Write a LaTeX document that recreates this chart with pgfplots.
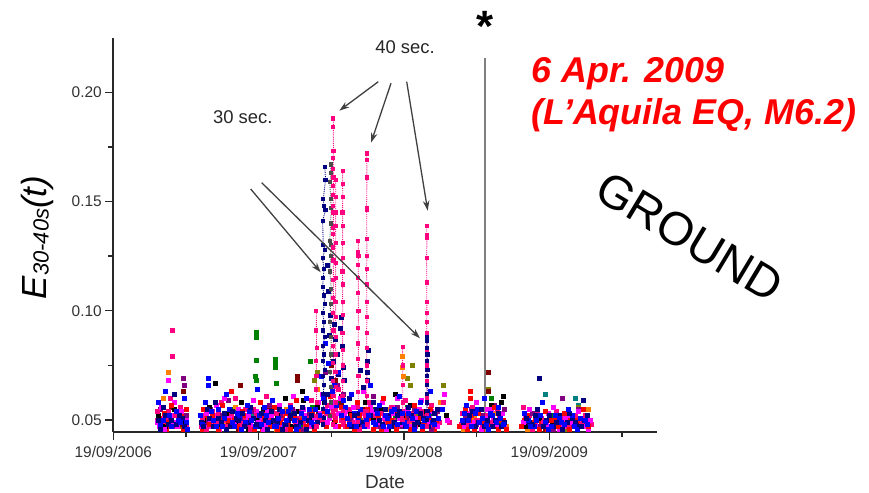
\documentclass[border=0pt]{standalone}
\usepackage{pgfplots}
\pgfplotsset{compat=1.18}
\usepackage{fontspec}
\setmainfont{Liberation Sans}
\usetikzlibrary{arrows.meta,calc}
\definecolor{ocBlack}{RGB}{0,0,0}
\definecolor{ocRed}{RGB}{255,0,0}
\definecolor{ocBlue}{RGB}{0,0,255}
\definecolor{ocMag}{RGB}{255,0,255}
\definecolor{ocOlive}{RGB}{128,128,0}
\definecolor{ocNavy}{RGB}{0,0,128}
\definecolor{ocPurple}{RGB}{128,0,128}
\definecolor{ocWine}{RGB}{128,0,0}
\definecolor{ocGreen}{RGB}{0,128,0}
\definecolor{ocOrange}{RGB}{255,128,0}
\definecolor{ocPink}{RGB}{255,0,128}
\definecolor{ocTeal}{RGB}{0,128,128}
\definecolor{axgray}{RGB}{40,40,40}
\definecolor{annot}{RGB}{64,64,64}
\pgfplotsset{
  dots/.style={only marks, mark=square*, mark size=2bp},
  spike/.style={densely dotted, line width=0.9bp, mark=square*, mark size=1.6bp, mark options={solid}},
}
\begin{document}
\begin{tikzpicture}[x=1bp,y=1bp]
\begin{axis}[
  name=ax,
  scale only axis, width=543.4bp, height=393.7bp,
  xmin=0, xmax=3.739, ymin=0.04464, ymax=0.22486,
  axis lines=left, axis line style={-, line width=1.8bp, color=axgray},
  tick align=outside, major tick length=8bp, minor tick length=5bp,
  every tick/.style={line width=1.4bp, color=axgray},
  xtick={0,1,2,3}, xticklabels={19/09/2006,19/09/2007,19/09/2008,19/09/2009},
  minor xtick={0.5,1.5,2.5,3.5},
  ytick={0.05,0.10,0.15,0.20}, yticklabels={0.05,0.10,0.15,0.20},
  minor ytick={0.075,0.125,0.175},
  tick label style={font=\fontsize{15.5}{18}\selectfont, text=black!80},
  xticklabel style={yshift=-3bp},
  /pgf/number format/assume math mode=true,
  xlabel={Date},
  xlabel style={at={(rel axis cs:0.5,-0.1455)}, anchor=base, font=\fontsize{19}{22}\selectfont, text=black!80},
  ylabel={\fontsize{35}{40}\selectfont\itshape E\raisebox{-2bp}{\fontsize{22}{24}\selectfont 30-40s}(t)},
  ylabel style={at={(rel axis cs:-0.1226,0.4933)}, anchor=base, inner sep=0pt},
]
% ---- base scatter, by colour ----
\addplot[dots, ocTeal] table[row sep=\\]{t v\\
0.39 .048\\ 0.70 .049\\ 0.95 .052\\ 1.20 .050\\ 1.80 .053\\ 2.05 .049\\ 2.97 .062\\ 3.18 .060\\ 3.20 .057\\};
\addplot[dots, ocOlive] table[row sep=\\]{t v\\
0.36 .051\\ 0.45 .047\\ 0.68 .047\\ 0.80 .052\\ 0.92 .049\\ 1.04 .055\\ 1.16 .047\\ 1.28 .051\\ 1.38 .068\\ 1.40 .072\\
1.70 .050\\ 1.84 .048\\ 2.02 .069\\ 2.04 .066\\ 2.06 .075\\ 2.10 .052\\ 2.20 .049\\ 2.27 .066\\
2.47 .049\\ 2.58 .064\\ 2.66 .052\\ 2.88 .049\\ 3.12 .046\\ 3.20 .056\\};
\addplot[dots, ocGreen] table[row sep=\\]{t v\\
0.35 .049\\ 0.44 .053\\ 0.66 .050\\ 0.74 .047\\ 0.83 .055\\ 0.92 .049\\ 0.98 .090\\ 0.98 .088\\ 0.98 .0775\\ 0.975 .070\\ 0.985 .068\\
1.05 .052\\ 1.115 .078\\ 1.115 .076\\ 1.115 .074\\ 1.12 .067\\ 1.17 .048\\ 1.24 .053\\ 1.31 .047\\ 1.355 .0767\\ 1.37 .056\\
1.56 .058\\ 1.64 .062\\ 1.70 .049\\ 1.78 .055\\ 1.86 .047\\ 1.94 .051\\ 2.02 .056\\ 2.10 .048\\ 2.18 .053\\
2.44 .050\\ 2.53 .055\\ 2.60 .060\\ 2.67 .049\\ 2.90 .048\\ 3.02 .052\\ 3.14 .047\\ 3.24 .050\\};
\addplot[dots, ocOrange] table[row sep=\\]{t v\\
0.34 .060\\ 0.378 .072\\ 0.42 .049\\ 0.47 .053\\ 0.63 .046\\ 0.70 .051\\ 0.77 .048\\ 0.84 .056\\ 0.91 .047\\ 0.98 .053\\
1.05 .049\\ 1.12 .046\\ 1.19 .055\\ 1.26 .048\\ 1.33 .052\\ 1.40 .064\\ 1.52 .055\\
1.66 .047\\ 1.73 .052\\ 1.81 .049\\ 1.88 .055\\ 1.99 .079\\ 1.99 .074\\ 1.995 .070\\ 2.06 .048\\ 2.13 .053\\ 2.20 .047\\ 2.25 .058\\
2.41 .046\\ 2.48 .051\\ 2.56 .048\\ 2.63 .053\\ 2.70 .047\\ 2.85 .046\\ 2.95 .050\\ 3.06 .047\\ 3.17 .052\\ 3.27 .055\\};
\addplot[dots, ocWine] table[row sep=\\]{t v\\
0.33 .051\\ 0.40 .056\\ 0.46 .048\\ 0.48 .063\\ 0.64 .047\\ 0.72 .053\\ 0.79 .049\\ 0.86 .046\\ 0.87 .066\\ 0.93 .052\\
1.00 .049\\ 1.07 .055\\ 1.14 .047\\ 1.21 .051\\ 1.262 .070\\ 1.262 .068\\ 1.35 .049\\ 1.41 .053\\
1.45 .060\\ 1.50 .075\\ 1.53 .068\\ 1.57 .058\\
1.65 .048\\ 1.72 .055\\ 1.79 .050\\ 1.86 .047\\ 1.93 .053\\ 2.00 .049\\ 2.07 .046\\ 2.14 .052\\ 2.21 .048\\
2.43 .048\\ 2.50 .053\\ 2.58 .072\\ 2.58 .063\\ 2.57 .049\\ 2.64 .047\\ 2.86 .049\\ 2.97 .046\\ 3.08 .051\\ 3.19 .048\\};
\addplot[dots, ocMag] table[row sep=\\]{t v\\
0.315 .047\\ 0.345 .051\\ 0.37 .053\\ 0.41 .049\\ 0.455 .051\\ 0.485 .047\\ 0.625 .050\\ 0.655 .047\\ 0.69 .052\\ 0.745 .049\\
0.785 .047\\ 0.815 .054\\ 0.845 .050\\ 0.875 .047\\ 0.915 .050\\ 0.945 .048\\ 0.985 .054\\ 1.015 .051\\ 1.045 .048\\ 1.085 .052\\
1.125 .047\\ 1.155 .053\\ 1.195 .049\\ 1.225 .047\\ 1.255 .054\\ 1.295 .050\\ 1.325 .052\\ 1.365 .048\\ 1.395 .047\\ 1.425 .053\\
1.455 .055\\ 1.485 .051\\ 1.515 .058\\ 1.545 .053\\ 1.575 .050\\ 1.605 .054\\ 1.635 .051\\ 1.665 .047\\ 1.705 .053\\ 1.735 .050\\
1.765 .056\\ 1.805 .052\\ 1.835 .047\\ 1.865 .051\\ 1.905 .049\\ 1.935 .056\\ 1.965 .051\\ 2.005 .047\\ 2.035 .052\\ 2.075 .049\\
2.105 .055\\ 2.135 .047\\ 2.175 .051\\ 2.205 .050\\ 2.425 .050\\ 2.455 .047\\ 2.485 .053\\ 2.515 .050\\ 2.545 .048\\ 2.575 .055\\
2.615 .050\\ 2.645 .047\\ 2.675 .053\\ 2.835 .052\\ 2.875 .047\\ 2.915 .050\\ 2.955 .047\\ 2.995 .053\\ 3.045 .049\\ 3.095 .047\\
3.135 .052\\ 3.175 .047\\ 3.225 .050\\ 3.265 .046\\};
\addplot[dots, ocPink] table[row sep=\\]{t v\\
0.305 .050\\ 0.35 .048\\ 0.375 .054\\ 0.425 .052\\ 0.475 .050\\ 0.505 .048\\ 0.605 .047\\ 0.635 .052\\ 0.665 .050\\ 0.725 .053\\
0.755 .050\\ 0.79 .047\\ 0.825 .049\\ 0.855 .052\\ 0.895 .050\\ 0.925 .048\\ 0.965 .055\\ 0.995 .047\\ 1.025 .052\\ 1.065 .050\\
1.095 .054\\ 1.135 .048\\ 1.165 .052\\ 1.205 .050\\ 1.235 .047\\ 1.275 .051\\ 1.305 .049\\ 1.345 .052\\ 1.375 .047\\ 1.415 .050\\
1.465 .053\\ 1.525 .055\\ 1.565 .050\\ 1.595 .047\\ 1.645 .052\\ 1.675 .050\\ 1.715 .054\\ 1.745 .049\\ 1.785 .052\\ 1.825 .050\\
1.855 .047\\ 1.895 .052\\ 1.925 .050\\ 1.965 .047\\ 1.995 .054\\ 2.025 .049\\ 2.065 .053\\ 2.095 .050\\ 2.145 .052\\ 2.175 .047\\
2.215 .053\\ 2.245 .049\\ 2.395 .048\\ 2.435 .051\\ 2.465 .049\\ 2.495 .054\\ 2.525 .050\\ 2.555 .047\\ 2.595 .052\\ 2.625 .049\\
2.655 .051\\ 2.685 .050\\ 2.845 .048\\ 2.865 .052\\ 2.905 .049\\ 2.945 .051\\ 2.985 .047\\ 3.025 .050\\ 3.075 .052\\ 3.115 .048\\
3.165 .050\\ 3.205 .047\\ 3.245 .052\\ 3.285 .048\\};
\addplot[dots, ocRed] table[row sep=\\]{t v\\
0.315 .051\\ 0.365 .046\\ 0.395 .050\\ 0.435 .047\\ 0.465 .053\\ 0.615 .046\\ 0.645 .051\\ 0.695 .048\\ 0.735 .050\\ 0.775 .046\\
0.805 .052\\ 0.835 .050\\ 0.875 .046\\ 0.905 .052\\ 0.945 .050\\ 0.985 .047\\ 1.025 .046\\ 1.055 .053\\ 1.095 .050\\ 1.125 .046\\
1.165 .051\\ 1.205 .048\\ 1.245 .052\\ 1.285 .046\\ 1.315 .051\\ 1.355 .049\\ 1.385 .046\\ 1.435 .050\\ 1.465 .047\\ 1.505 .052\\
1.545 .047\\ 1.585 .051\\ 1.625 .050\\ 1.655 .046\\ 1.695 .052\\ 1.735 .048\\ 1.765 .051\\ 1.805 .049\\ 1.845 .046\\ 1.875 .052\\
1.915 .050\\ 1.945 .046\\ 1.985 .049\\ 2.025 .052\\ 2.055 .047\\ 2.095 .050\\ 2.125 .046\\ 2.165 .050\\ 2.205 .046\\
2.405 .050\\ 2.435 .046\\ 2.465 .052\\ 2.495 .049\\ 2.535 .046\\ 2.565 .051\\ 2.605 .048\\ 2.645 .046\\ 2.685 .050\\
2.825 .050\\ 2.865 .047\\ 2.905 .051\\ 2.945 .049\\ 2.985 .046\\ 3.035 .050\\ 3.085 .046\\ 3.125 .050\\ 3.185 .047\\ 3.235 .049\\};
\addplot[dots, ocPurple] table[row sep=\\]{t v\\
0.32 .055\\ 0.37 .050\\ 0.41 .047\\ 0.48 .069\\ 0.485 .066\\ 0.50 .052\\
0.63 .049\\ 0.67 .055\\ 0.71 .047\\ 0.75 .052\\ 0.79 .059\\ 0.83 .048\\ 0.87 .051\\ 0.91 .047\\ 0.95 .054\\ 0.99 .050\\
1.03 .046\\ 1.07 .057\\ 1.11 .049\\ 1.15 .052\\ 1.19 .047\\ 1.23 .055\\ 1.27 .050\\ 1.31 .046\\ 1.35 .053\\ 1.39 .048\\
1.46 .072\\ 1.50 .080\\ 1.54 .066\\ 1.58 .062\\
1.63 .050\\ 1.67 .056\\ 1.71 .048\\ 1.75 .053\\ 1.79 .061\\ 1.83 .047\\ 1.87 .052\\ 1.91 .049\\ 1.95 .056\\ 1.99 .047\\
2.03 .051\\ 2.07 .055\\ 2.11 .048\\ 2.15 .052\\ 2.19 .046\\ 2.23 .054\\
2.42 .051\\ 2.46 .055\\ 2.50 .048\\ 2.54 .052\\ 2.58 .046\\ 2.62 .057\\ 2.66 .050\\ 2.69 .055\\
2.83 .048\\ 2.88 .053\\ 2.93 .047\\ 2.98 .050\\ 3.03 .046\\ 3.09 .060\\ 3.15 .048\\ 3.20 .055\\ 3.25 .049\\};
\addplot[dots, ocBlack] table[row sep=\\]{t v\\
0.31 .052\\ 0.36 .047\\ 0.42 .055\\ 0.48 .049\\
0.62 .050\\ 0.66 .056\\ 0.70 .067\\ 0.74 .047\\ 0.79 .053\\ 0.84 .049\\ 0.88 .058\\ 0.93 .046\\ 0.98 .051\\
1.03 .055\\ 1.08 .048\\ 1.13 .052\\ 1.18 .060\\ 1.23 .047\\ 1.27 .054\\ 1.30 .063\\ 1.31 .059\\ 1.36 .050\\ 1.40 .056\\
1.45 .058\\ 1.52 .049\\ 1.57 .061\\
1.63 .053\\ 1.68 .047\\ 1.73 .058\\ 1.79 .050\\ 1.84 .055\\ 1.89 .046\\ 1.94 .062\\ 1.99 .051\\
2.04 .057\\ 2.10 .048\\ 2.15 .054\\ 2.20 .049\\
2.29 .052\\ 2.43 .048\\ 2.48 .055\\ 2.54 .050\\ 2.60 .057\\ 2.68 .061\\ 2.67 .058\\
2.84 .047\\ 2.93 .051\\ 3.02 .048\\ 3.12 .053\\ 3.22 .047\\};
\addplot[dots, ocPink] table[row sep=\\]{t v\\
0.30 .054\\ 0.33 .046\\ 0.36 .050\\ 0.39 .060\\ 0.405 .091\\ 0.405 .079\\ 0.43 .048\\ 0.46 .056\\ 0.49 .047\\
0.61 .051\\ 0.64 .046\\ 0.68 .054\\ 0.71 .049\\ 0.74 .058\\ 0.77 .047\\ 0.81 .052\\ 0.84 .060\\ 0.87 .048\\ 0.91 .055\\ 0.94 .046\\
0.98 .052\\ 1.01 .049\\ 1.05 .061\\ 1.08 .047\\ 1.12 .053\\ 1.15 .050\\ 1.18 .046\\ 1.22 .057\\ 1.25 .049\\ 1.29 .054\\ 1.32 .047\\
1.36 .059\\ 1.39 .051\\ 1.44 .050\\ 1.47 .057\\ 1.51 .052\\ 1.55 .064\\ 1.58 .049\\
1.62 .055\\ 1.66 .049\\ 1.69 .046\\ 1.73 .052\\ 1.76 .058\\ 1.80 .047\\ 1.84 .053\\ 1.87 .049\\ 1.91 .056\\ 1.94 .047\\
1.98 .052\\ 2.01 .059\\ 2.05 .050\\ 2.08 .047\\ 2.12 .054\\ 2.15 .048\\ 2.19 .057\\ 2.23 .050\\ 2.27 .058\\ 2.31 .049\\
2.40 .053\\ 2.44 .048\\ 2.47 .056\\ 2.50 .050\\ 2.54 .047\\ 2.57 .052\\ 2.61 .049\\ 2.64 .055\\ 2.67 .047\\
2.82 .056\\ 2.84 .050\\ 2.88 .046\\ 2.92 .053\\ 2.96 .049\\ 3.00 .047\\ 3.05 .054\\ 3.09 .050\\ 3.13 .047\\ 3.18 .052\\ 3.22 .048\\ 3.26 .051\\};
\addplot[dots, ocMag] table[row sep=\\]{t v\\
0.30 .049\\ 0.33 .056\\ 0.35 .046\\ 0.38 .068\\ 0.39 .052\\ 0.42 .058\\ 0.44 .047\\ 0.47 .054\\ 0.50 .050\\
0.61 .047\\ 0.64 .053\\ 0.67 .049\\ 0.71 .057\\ 0.73 .046\\ 0.76 .060\\ 0.80 .051\\ 0.83 .048\\ 0.86 .055\\ 0.90 .047\\ 0.93 .052\\
0.96 .059\\ 1.00 .049\\ 1.03 .046\\ 1.06 .054\\ 1.10 .050\\ 1.14 .057\\ 1.17 .047\\ 1.21 .052\\ 1.24 .061\\ 1.27 .048\\ 1.31 .055\\
1.34 .047\\ 1.38 .051\\ 1.41 .058\\ 1.44 .062\\ 1.47 .049\\ 1.50 .056\\ 1.53 .047\\ 1.56 .060\\ 1.59 .052\\
1.62 .048\\ 1.65 .056\\ 1.68 .050\\ 1.72 .063\\ 1.75 .047\\ 1.78 .054\\ 1.82 .049\\ 1.85 .058\\ 1.88 .046\\ 1.92 .053\\
1.95 .060\\ 1.98 .048\\ 2.02 .055\\ 2.05 .047\\ 2.09 .051\\ 2.12 .059\\ 2.16 .049\\ 2.19 .054\\ 2.23 .047\\ 2.28 .062\\ 2.30 .050\\
2.41 .047\\ 2.44 .053\\ 2.47 .049\\ 2.50 .058\\ 2.53 .046\\ 2.56 .051\\ 2.60 .055\\ 2.63 .048\\ 2.66 .052\\ 2.69 .047\\
2.82 .049\\ 2.86 .055\\ 2.90 .047\\ 2.94 .052\\ 2.98 .048\\ 3.03 .056\\ 3.07 .046\\ 3.11 .051\\ 3.16 .049\\ 3.20 .054\\ 3.24 .047\\ 3.28 .050\\};
\addplot[dots, ocRed] table[row sep=\\]{t v\\
0.32 .047\\ 0.35 .053\\ 0.37 .049\\ 0.40 .057\\ 0.45 .051\\ 0.48 .046\\ 0.50 .055\\
0.62 .055\\ 0.66 .048\\ 0.68 .052\\ 0.72 .046\\ 0.75 .057\\ 0.79 .050\\ 0.81 .063\\ 0.85 .047\\ 0.89 .054\\ 0.92 .049\\ 0.97 .046\\
1.01 .058\\ 1.04 .051\\ 1.08 .047\\ 1.11 .056\\ 1.15 .049\\ 1.19 .053\\ 1.22 .046\\ 1.26 .059\\ 1.29 .050\\ 1.33 .047\\ 1.37 .054\\ 1.40 .049\\
1.45 .054\\ 1.49 .061\\ 1.53 .050\\ 1.57 .056\\
1.61 .047\\ 1.64 .052\\ 1.68 .058\\ 1.71 .049\\ 1.75 .055\\ 1.79 .046\\ 1.82 .052\\ 1.86 .060\\ 1.89 .049\\ 1.93 .047\\ 1.96 .054\\
2.00 .050\\ 2.04 .046\\ 2.07 .057\\ 2.11 .051\\ 2.14 .048\\ 2.18 .055\\ 2.22 .050\\
2.38 .047\\ 2.42 .055\\ 2.45 .050\\ 2.455 .063\\ 2.455 .060\\ 2.48 .046\\ 2.51 .053\\ 2.55 .049\\ 2.59 .047\\ 2.62 .056\\ 2.66 .050\\ 2.70 .046\\
2.81 .047\\ 2.85 .052\\ 2.89 .049\\ 2.93 .046\\ 2.97 .054\\ 3.01 .050\\ 3.06 .047\\ 3.10 .053\\ 3.14 .046\\ 3.19 .050\\ 3.23 .055\\ 3.27 .047\\};
\addplot[dots, ocNavy] table[row sep=\\]{t v\\
0.325 .046\\ 0.355 .052\\ 0.395 .050\\ 0.435 .048\\ 0.475 .051\\ 0.605 .049\\ 0.645 .055\\ 0.685 .047\\ 0.725 .051\\ 0.765 .053\\
0.805 .047\\ 0.845 .051\\ 0.885 .053\\ 0.925 .049\\ 0.965 .051\\ 1.005 .047\\ 1.045 .050\\ 1.085 .054\\ 1.125 .049\\ 1.165 .046\\
1.205 .050\\ 1.245 .053\\ 1.285 .049\\ 1.325 .046\\ 1.365 .052\\ 1.405 .049\\ 1.64 .047\\ 1.68 .053\\ 1.71 .049\\ 1.77 .052\\
1.81 .055\\ 1.85 .048\\ 1.89 .052\\ 1.93 .049\\ 1.97 .054\\ 2.01 .047\\ 2.05 .052\\ 2.09 .049\\ 2.13 .051\\ 2.17 .047\\ 2.21 .053\\
2.43 .050\\ 2.47 .054\\ 2.51 .049\\ 2.55 .047\\ 2.59 .052\\ 2.63 .050\\ 2.67 .047\\
2.86 .049\\ 2.90 .052\\ 2.98 .050\\ 3.03 .047\\ 3.07 .052\\ 3.12 .049\\ 3.16 .051\\ 3.20 .047\\ 3.24 .050\\};
\addplot[dots, ocBlue] table[row sep=\\]{t v\\
0.325 .048\\ 0.385 .052\\ 0.445 .050\\ 0.505 .049\\ 0.615 .048\\ 0.675 .054\\ 0.705 .047\\ 0.765 .051\\ 0.795 .055\\ 0.835 .047\\
0.865 .051\\ 0.905 .049\\ 0.935 .054\\ 0.975 .047\\ 1.005 .052\\ 1.035 .056\\ 1.065 .049\\ 1.105 .047\\ 1.135 .051\\ 1.175 .048\\
1.205 .054\\ 1.245 .050\\ 1.275 .047\\ 1.315 .051\\ 1.345 .055\\ 1.375 .048\\ 1.415 .052\\ 1.445 .060\\ 1.475 .054\\ 1.505 .063\\
1.535 .057\\ 1.565 .052\\ 1.595 .056\\ 1.625 .048\\ 1.655 .053\\ 1.685 .050\\ 1.725 .047\\ 1.755 .052\\ 1.785 .049\\ 1.815 .053\\
1.855 .047\\ 1.885 .051\\ 1.915 .054\\ 1.955 .048\\ 1.985 .053\\ 2.015 .047\\ 2.055 .051\\ 2.085 .054\\ 2.125 .047\\ 2.165 .052\\
2.195 .049\\ 2.235 .051\\ 2.415 .053\\ 2.445 .050\\ 2.475 .047\\ 2.505 .055\\ 2.535 .051\\ 2.565 .048\\ 2.595 .053\\ 2.635 .049\\
2.665 .051\\ 2.855 .050\\ 2.895 .047\\ 2.935 .052\\ 2.975 .049\\ 3.015 .047\\ 3.065 .051\\ 3.105 .048\\ 3.155 .052\\ 3.195 .046\\ 3.245 .050\\};
\addplot[dots, ocNavy] table[row sep=\\]{t v\\
0.31 .050\\ 0.34 .056\\ 0.38 .048\\ 0.42 .062\\ 0.45 .052\\ 0.49 .047\\
0.62 .047\\ 0.66 .051\\ 0.70 .058\\ 0.74 .049\\ 0.78 .046\\ 0.82 .054\\ 0.86 .050\\ 0.90 .047\\ 0.94 .056\\ 0.98 .048\\
1.02 .053\\ 1.06 .046\\ 1.10 .050\\ 1.14 .055\\ 1.18 .048\\ 1.22 .052\\ 1.26 .047\\ 1.30 .056\\ 1.34 .050\\ 1.38 .047\\
1.47 .121\\ 1.48 .109\\ 1.485 .089\\ 1.49 .098\\ 1.50 .069\\ 1.51 .077\\ 1.52 .094\\ 1.53 .087\\ 1.54 .080\\ 1.55 .071\\
1.56 .092\\ 1.57 .097\\ 1.575 .084\\ 1.58 .074\\ 1.59 .068\\ 1.475 .062\\
1.62 .060\\ 1.66 .052\\ 1.70 .073\\ 1.72 .065\\ 1.755 .082\\ 1.75 .077\\ 1.745 .072\\ 1.75 .068\\ 1.79 .058\\ 1.83 .050\\
1.87 .055\\ 1.91 .047\\ 1.95 .052\\ 1.99 .049\\ 2.03 .056\\ 2.07 .048\\ 2.11 .053\\ 2.20 .050\\ 2.23 .055\\
2.41 .049\\ 2.45 .052\\ 2.49 .047\\ 2.53 .055\\ 2.57 .050\\ 2.61 .047\\ 2.65 .053\\ 2.69 .049\\
2.84 .051\\ 2.88 .048\\ 2.92 .055\\ 2.93 .069\\ 2.96 .047\\ 3.00 .052\\ 3.05 .049\\ 3.09 .046\\ 3.14 .053\\ 3.18 .049\\
3.22 .047\\ 3.23 .059\\ 3.26 .052\\};
\addplot[dots, ocBlue] table[row sep=\\]{t v\\
0.31 .058\\ 0.34 .050\\ 0.36 .063\\ 0.40 .047\\ 0.43 .054\\ 0.46 .049\\ 0.49 .060\\ 0.51 .046\\
0.60 .052\\ 0.63 .058\\ 0.65 .069\\ 0.651 .066\\ 0.69 .050\\ 0.72 .055\\ 0.75 .047\\ 0.78 .062\\ 0.82 .049\\ 0.85 .053\\ 0.88 .046\\
0.92 .057\\ 0.95 .050\\ 0.99 .064\\ 1.02 .048\\ 1.05 .052\\ 1.09 .059\\ 1.12 .047\\ 1.16 .054\\ 1.19 .050\\ 1.22 .056\\ 1.26 .046\\
1.29 .053\\ 1.33 .060\\ 1.36 .049\\ 1.39 .055\\
1.43 .070\\ 1.46 .085\\ 1.48 .076\\ 1.52 .066\\ 1.55 .072\\ 1.58 .059\\
1.61 .051\\ 1.64 .062\\ 1.67 .047\\ 1.70 .055\\ 1.74 .050\\ 1.77 .066\\ 1.80 .048\\ 1.83 .057\\ 1.87 .052\\ 1.90 .047\\
1.93 .055\\ 1.97 .061\\ 2.00 .049\\ 2.03 .053\\ 2.07 .046\\ 2.11 .058\\ 2.14 .050\\ 2.18 .063\\ 2.21 .048\\ 2.26 .055\\
2.40 .050\\ 2.43 .057\\ 2.46 .047\\ 2.49 .053\\ 2.52 .049\\ 2.55 .060\\ 2.58 .046\\ 2.61 .052\\ 2.65 .056\\ 2.68 .048\\
2.83 .053\\ 2.87 .047\\ 2.91 .050\\ 2.95 .058\\ 2.99 .046\\ 3.04 .052\\ 3.08 .049\\ 3.13 .055\\ 3.17 .047\\ 3.21 .051\\ 3.26 .048\\};
% ---- spikes (line + symbol) ----
\addplot[spike, ocNavy] table[row sep=\\]{t v\\
1.455 .166\\ 1.46 .160\\ 1.445 .151\\ 1.45 .148\\ 1.46 .146\\ 1.44 .141\\ 1.445 .130\\ 1.455 .128\\ 1.44 .124\\ 1.45 .119\\
1.445 .115\\ 1.44 .111\\ 1.45 .107\\ 1.455 .103\\ 1.44 .099\\ 1.45 .095\\ 1.445 .091\\ 1.455 .088\\ 1.44 .084\\ 1.45 .080\\
1.445 .077\\ 1.455 .073\\ 1.44 .070\\ 1.45 .066\\ 1.445 .062\\ 1.455 .058\\ 1.44 .055\\ 1.45 .051\\ 1.445 .048\\};
\addplot[spike, black!70] table[row sep=\\]{t v\\
1.495 .167\\ 1.497 .163\\ 1.49 .159\\ 1.495 .151\\ 1.50 .147\\ 1.495 .140\\ 1.49 .132\\ 1.50 .130\\ 1.495 .125\\ 1.49 .118\\
1.50 .110\\ 1.495 .103\\ 1.49 .095\\ 1.50 .088\\ 1.495 .080\\ 1.49 .072\\ 1.50 .065\\ 1.495 .058\\ 1.49 .052\\};
\addplot[spike, ocPink] table[row sep=\\]{t v\\
1.397 .100\\ 1.397 .091\\ 1.399 .083\\ 1.397 .077\\ 1.398 .070\\ 1.397 .064\\ 1.399 .058\\ 1.397 .052\\ 1.398 .047\\};
\addplot[spike, ocPink] table[row sep=\\]{t v\\
1.514 .188\\ 1.514 .184\\ 1.515 .173\\ 1.514 .170\\ 1.513 .165\\ 1.515 .161\\ 1.514 .157\\ 1.514 .153\\ 1.513 .148\\ 1.515 .145\\
1.514 .138\\ 1.514 .135\\ 1.513 .129\\ 1.515 .123\\ 1.514 .114\\ 1.514 .106\\ 1.513 .099\\ 1.515 .091\\ 1.514 .084\\ 1.514 .076\\
1.513 .068\\ 1.515 .061\\ 1.514 .054\\ 1.514 .048\\};
\addplot[spike, ocPink] table[row sep=\\]{t v\\
1.530 .160\\ 1.531 .152\\ 1.530 .145\\ 1.529 .139\\ 1.531 .131\\ 1.530 .122\\ 1.530 .115\\ 1.529 .104\\ 1.531 .097\\ 1.530 .088\\
1.530 .080\\ 1.529 .072\\ 1.531 .065\\ 1.530 .058\\ 1.530 .051\\};
\addplot[spike, ocPink] table[row sep=\\]{t v\\
1.578 .164\\ 1.578 .158\\ 1.579 .152\\ 1.577 .145\\ 1.578 .139\\ 1.578 .131\\ 1.579 .124\\ 1.577 .118\\ 1.578 .112\\ 1.578 .104\\
1.579 .098\\ 1.577 .090\\ 1.578 .082\\ 1.578 .075\\ 1.579 .068\\ 1.577 .061\\ 1.578 .054\\ 1.578 .048\\};
\addplot[spike, ocPink] table[row sep=\\]{t v\\
1.686 .132\\ 1.686 .127\\ 1.687 .125\\ 1.685 .121\\ 1.686 .115\\ 1.686 .108\\ 1.687 .100\\ 1.685 .092\\ 1.686 .085\\ 1.686 .078\\
1.687 .070\\ 1.685 .063\\ 1.686 .056\\ 1.686 .049\\};
\addplot[spike, ocPink] table[row sep=\\]{t v\\
1.744 .172\\ 1.744 .169\\ 1.745 .161\\ 1.743 .147\\ 1.744 .146\\ 1.744 .133\\ 1.745 .125\\ 1.743 .119\\ 1.744 .112\\ 1.744 .104\\
1.745 .097\\ 1.743 .090\\ 1.744 .083\\ 1.744 .075\\ 1.745 .068\\ 1.743 .061\\ 1.744 .054\\ 1.744 .048\\};
\addplot[spike, ocPink] table[row sep=\\]{t v\\
1.991 .0835\\ 1.991 .075\\ 1.992 .066\\ 1.991 .058\\ 1.990 .050\\};
\addplot[spike, ocPink] table[row sep=\\]{t v\\
2.157 .139\\ 2.157 .1345\\ 2.158 .1335\\ 2.156 .124\\ 2.157 .113\\ 2.157 .104\\ 2.158 .099\\ 2.156 .095\\ 2.157 .090\\ 2.157 .082\\
2.158 .075\\ 2.156 .068\\ 2.157 .060\\ 2.157 .053\\ 2.158 .047\\};
\addplot[spike, ocNavy] table[row sep=\\]{t v\\
2.160 .088\\ 2.160 .086\\ 2.158 .083\\ 2.162 .080\\ 2.160 .077\\ 2.161 .073\\ 2.159 .070\\ 2.160 .066\\ 2.160 .062\\ 2.158 .058\\
2.161 .054\\ 2.160 .050\\};
% earthquake marker line
\draw[line width=1.8bp, color=black!50] (axis cs:2.558,0.04464) -- (axis cs:2.558,0.2157);
\end{axis}
% annotations: picture coordinates (1 unit = 1 px of the reference, origin at its bottom-left)
\begin{scope}[shift={($(ax.south west)+(-113.3,-60.3)$)}]
\begin{scope}[annot, line width=1.3bp, -{Stealth[length=10bp,width=6.5bp]}]
\draw (378.3,410.3) -- (339.3,381.3);
\draw (391.0,408.7) -- (371.0,349.3);
\draw (406.7,410.3) -- (427.7,281.3);
\draw (250.7,303.0) -- (320.7,219.7);
\draw (261.7,309.3) -- (420.0,153.7);
\end{scope}
\node[font=\fontsize{18.5}{22}\selectfont, text=black!85] at (242.8,374.7) {30 sec.};
\node[font=\fontsize{18.5}{22}\selectfont, text=black!85] at (405.0,445.3) {40 sec.};
\node[font=\fontsize{44}{50}\selectfont\bfseries, anchor=base] at (485,450) {*};
\node[font=\fontsize{36}{42}\selectfont\bfseries\itshape, text=ocRed, anchor=base west, inner sep=0pt] at (531.7,409.3) {6 Apr. 2009};
\node[font=\fontsize{36}{42}\selectfont\bfseries\itshape, text=ocRed, anchor=base west, inner sep=0pt] at (531.7,367.0) {(L’Aquila EQ, M6.2)};
\node[font=\fontsize{47}{52}\selectfont, rotate=-31] at (690,255) {GROUND};
\path (0,0) rectangle (869,492);
\end{scope}
\end{tikzpicture}
\end{document}
